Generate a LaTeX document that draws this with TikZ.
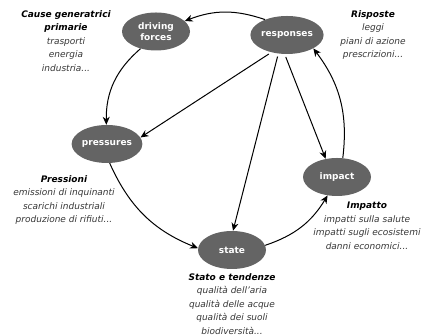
\documentclass[tikz,border=0pt]{standalone}
\usepackage{fontspec}
\setmainfont{DejaVu Sans}
\usetikzlibrary{shapes.geometric,arrows.meta}

\definecolor{blobgray}{RGB}{100,100,100}
\definecolor{notegray}{RGB}{55,55,55}
\newcommand{\notehead}[1]{\textcolor{black}{\bfseries #1}}

\tikzset{
  blob/.style={ellipse,fill=blobgray,text=white,align=center,inner sep=0pt,
    minimum width=68pt,minimum height=38pt,
    font=\bfseries\fontsize{9}{11.5}\selectfont},
  note/.style={anchor=north,align=center,inner sep=0pt,text=notegray,
    font=\itshape\fontsize{9}{13.5}\selectfont},
  link/.style={line width=1pt,-{Stealth[length=8pt,width=7pt,inset=2.5pt]}},
}

\begin{document}
\begin{tikzpicture}[x=1pt,y=1pt]
  \useasboundingbox (0,0) rectangle (426,336);

  % the five stages
  \node[blob] (driving) at (156,304.5) {driving\\forces};
  \node[blob] (responses) at (287,301) {responses};
  \node[blob] (pressures) at (107,192) {pressures};
  \node[blob] (impact) at (337,159) {impact};
  \node[blob] (state) at (232,86) {state};

  % the cycle
  \draw[link] (responses.145) to[bend right=20] (driving.20);
  \draw[link] (driving.228) to[bend right=25] (pressures.92);
  \draw[link] (pressures.278) to[bend right=22] (state.177);
  \draw[link] (state.8) to[bend right=20] (impact.243);
  \draw[link] (impact.73) to[bend right=22] (responses.333);

  % what responses act on
  \draw[link,shorten <=3pt] (responses.228) -- (pressures.11);
  \draw[link,shorten <=3pt] (responses.245) -- (state.87);
  \draw[link,shorten <=3pt] (responses.263) -- (impact.122);

  % notes
  \node[note] (causenote) at (66,326)
    {\notehead{Cause generatrici}\\\notehead{primarie}\\trasporti\\energia\\industria...};
  \node[note] (risposte) at (373,326)
    {\notehead{Risposte}\\leggi\\piani di azione\\prescrizioni...};
  \node[note] (pressioni) at (64,161)
    {\notehead{Pressioni}\\emissioni di inquinanti\\scarichi industriali\\produzione di rifiuti...};
  \node[note] (impatto) at (367,134)
    {\notehead{Impatto}\\impatti sulla salute\\impatti sugli ecosistemi\\danni economici...};
  \node[note] (stato) at (232,63)
    {\notehead{Stato e tendenze}\\qualità dell'aria\\qualità delle acque\\qualità dei suoli\\biodiversità...};
\end{tikzpicture}
\end{document}
